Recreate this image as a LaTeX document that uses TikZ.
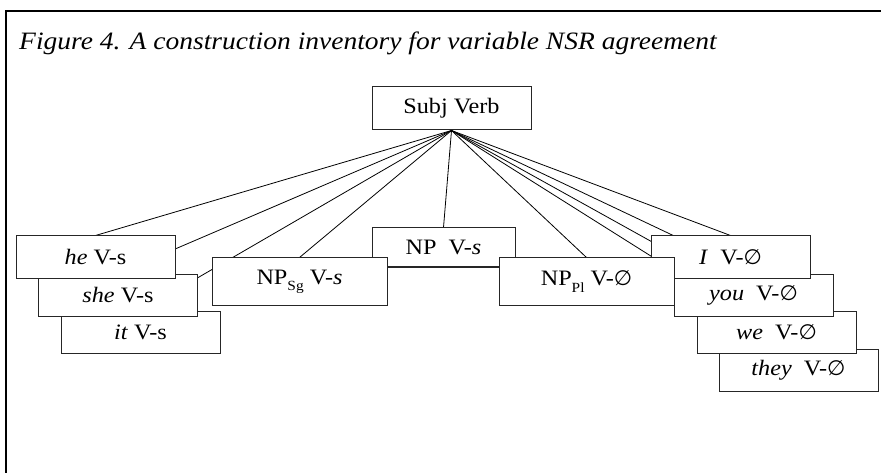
\documentclass[tikz,border=0pt]{standalone}
\usepackage{fontspec}
\setmainfont[FakeStretch=1.1]{Liberation Serif}
\newfontfamily\dvsans{DejaVu Sans}
\usetikzlibrary{backgrounds}
\newcommand\lsub[1]{\raisebox{-0.28em}{\fontsize{14pt}{14pt}\selectfont #1}}
\newcommand\nul{{\dvsans\fontsize{21pt}{21pt}\selectfont ∅}}
\tikzset{
  cbox/.style={draw=black!85, line width=1pt, fill=white, inner sep=0pt,
    minimum width=159pt, minimum height=42pt, font=\fontsize{22pt}{24pt}\selectfont},
  wbox/.style={cbox, minimum width=175pt, minimum height=47pt},
  link/.style={draw=black, line width=0.8pt},
}
\begin{document}
\begin{tikzpicture}[x=1pt,y=-1pt]
\useasboundingbox (0,0) rectangle (881,473);
\draw[line width=2.5pt] (6,473) -- (6,11) -- (881,11);
\node[anchor=base west, inner sep=0pt, font=\fontsize{25pt}{27pt}\selectfont\itshape] (title) at (19,50)
  {Figure 4. A construction inventory for variable NSR agreement};
% right stack
\node[cbox] (they) at (798.5,370.5) {\textit{they}~ V-\nul};
\node[cbox] (we) at (776.5,332.5) {\textit{we}~ V-\nul};
\node[cbox] (you) at (753.5,295) {\textit{you}~ V-\nul};
\node[cbox] (i) at (730.5,257) {\textit{I}~ V-\nul};
% middle
\node[cbox, minimum width=143pt, minimum height=39pt] (np) at (443.5,247.5) {NP~ V-\textit{s}};
\node[wbox] (nppl) at (586.5,281.5) {NP\lsub{Pl} V-\nul};
\node[wbox] (npsg) at (299.5,281.5) {NP\lsub{Sg} V-\textit{s}};
% left stack
\node[cbox] (it) at (140.5,332.5) {\textit{it} V-s};
\node[cbox] (she) at (118,295) {\textit{she} V-s};
\node[cbox] (he) at (95.5,257) {\textit{he} V-s};
% top
\node[cbox, minimum height=43pt] (sv) at (451.5,108.5) {Subj Verb};
\begin{pgfonlayer}{background}
\foreach \t in {he,she,it,npsg,np,nppl,i,you,we,they}
  \draw[link] (sv.south) -- (\t.north);
\end{pgfonlayer}
\end{tikzpicture}
\end{document}
